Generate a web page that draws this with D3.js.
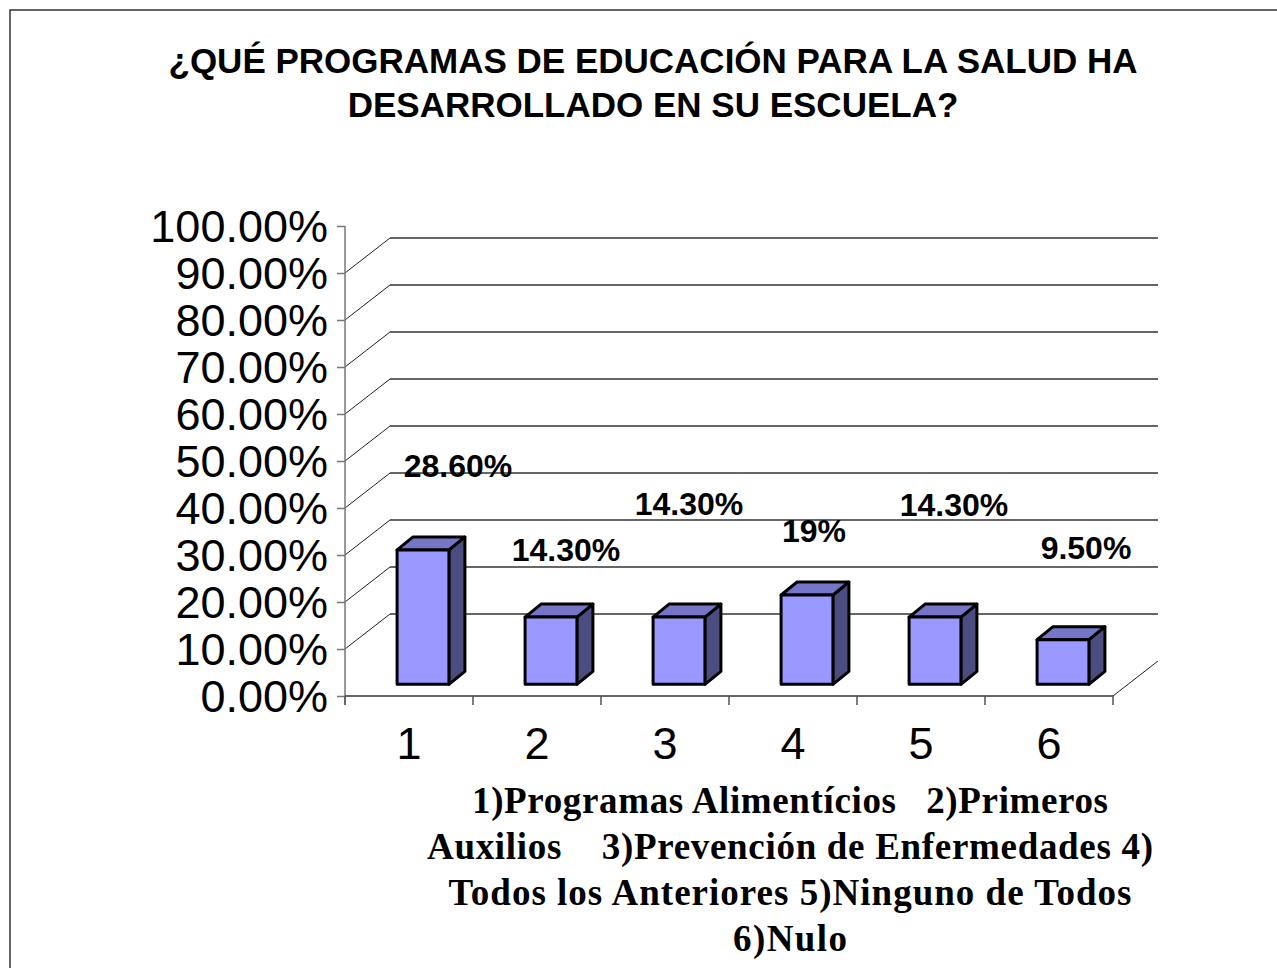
<!DOCTYPE html>
<html>
<head>
<meta charset="utf-8">
<script src="https://cdn.jsdelivr.net/npm/d3@7"></script>
<style>
  body { margin: 0; background: #fff; }
  svg { display: block; }
</style>
</head>
<body>
<div id="chart"></div>
<script>
// Data
var categories = ["1", "2", "3", "4", "5", "6"];
var values = [0.286, 0.143, 0.143, 0.19, 0.143, 0.095];
var valueLabels = ["28.60%", "14.30%", "14.30%", "19%", "14.30%", "9.50%"];
var yTicks = [0, 0.1, 0.2, 0.3, 0.4, 0.5, 0.6, 0.7, 0.8, 0.9, 1.0];
var titleLines = ["¿QUÉ PROGRAMAS DE EDUCACIÓN PARA LA SALUD HA", "DESARROLLADO EN SU ESCUELA?"];
var captionLines = [
    "1)Programas Alimentícios   2)Primeros",
    "Auxilios    3)Prevención de Enfermedades 4)",
    "Todos los Anteriores 5)Ninguno de Todos",
    "6)Nulo"
];

// labels were nudged by hand in the original chart
var labelNudge = [[34, -73], [14, -56], [9, -102], [6, -53], [18, -101], [22, -81]];
var captionWidths = [636, 726, 683, 114];

var W = 1277, H = 968;
var depth = {dx: 45, dy: -35}; // 3d depth of the plot box

var svg = d3.select("#chart").append("svg")
    .attr("width", W)
    .attr("height", H);

// outer frame
svg.append("rect")
    .attr("x", 10).attr("y", 10)
    .attr("width", W + 20).attr("height", H + 20)
    .attr("fill", "none")
    .attr("stroke", "#333")
    .attr("stroke-width", 1.5);

// title
svg.append("g").selectAll("text")
    .data(titleLines)
    .enter().append("text")
    .attr("x", 653)
    .attr("y", (d, i) => 73 + i * 44)
    .attr("text-anchor", "middle")
    .style("font-family", "Arial, 'Liberation Sans', sans-serif")
    .style("font-weight", "bold")
    .style("font-size", "35px")
    .text(d => d);

// scales
var x = d3.scaleBand().domain(categories).range([345, 1113]);
var y = d3.scaleLinear().domain([0, 1]).range([696, 226]);

var plot = svg.append("g");

// back wall gridlines + side wall diagonals
var gridVals = yTicks.filter(v => v > 0 && v < 1);
plot.selectAll(".grid")
    .data(gridVals)
    .enter().append("line")
    .attr("class", "grid")
    .attr("x1", x.range()[0] + depth.dx)
    .attr("x2", x.range()[1] + depth.dx)
    .attr("y1", d => y(d) + depth.dy)
    .attr("y2", d => y(d) + depth.dy)
    .attr("stroke", "#333")
    .attr("stroke-width", 1.3);

plot.selectAll(".diag")
    .data(gridVals)
    .enter().append("line")
    .attr("class", "diag")
    .attr("x1", x.range()[0])
    .attr("x2", x.range()[0] + depth.dx)
    .attr("y1", d => y(d))
    .attr("y2", d => y(d) + depth.dy)
    .attr("stroke", "#222")
    .attr("stroke-width", 1);

// floor right edge
plot.append("line")
    .attr("x1", x.range()[1]).attr("y1", y(0))
    .attr("x2", x.range()[1] + depth.dx).attr("y2", y(0) + depth.dy)
    .attr("stroke", "#222")
    .attr("stroke-width", 1);

// y axis
var yAxis = d3.axisLeft(y)
    .tickValues(yTicks)
    .tickFormat(d3.format(".2%"))
    .tickSize(8)
    .tickPadding(9);

var yG = plot.append("g")
    .attr("transform", "translate(" + x.range()[0] + ",0)")
    .call(yAxis);
yG.select(".domain").remove();
yG.selectAll(".tick line").attr("stroke", "#777").attr("stroke-width", 1.5);
yG.selectAll(".tick text")
    .attr("dy", "0.35em")
    .attr("fill", "#000")
    .style("font-family", "Arial, 'Liberation Sans', sans-serif")
    .style("font-size", "45px");
plot.append("line")
    .attr("x1", x.range()[0]).attr("x2", x.range()[0])
    .attr("y1", y(1)).attr("y2", y(0) + 9)
    .attr("stroke", "#777").attr("stroke-width", 1.5);

// x axis
plot.append("line")
    .attr("x1", x.range()[0]).attr("x2", x.range()[1])
    .attr("y1", y(0)).attr("y2", y(0))
    .attr("stroke", "#333").attr("stroke-width", 1.5);

var bounds = categories.map(c => x(c)).concat([x.range()[1]]);
plot.selectAll(".xtick")
    .data(bounds)
    .enter().append("line")
    .attr("class", "xtick")
    .attr("x1", d => d).attr("x2", d => d)
    .attr("y1", y(0)).attr("y2", y(0) + 9)
    .attr("stroke", "#555").attr("stroke-width", 1.5);

plot.selectAll(".xlabel")
    .data(categories)
    .enter().append("text")
    .attr("class", "xlabel")
    .attr("x", d => x(d) + x.bandwidth() / 2)
    .attr("y", 759)
    .attr("text-anchor", "middle")
    .style("font-family", "Arial, 'Liberation Sans', sans-serif")
    .style("font-size", "45px")
    .text(d => d);

// 3d bars: front face sits a third of the way into the box, bar depth another third
var barW = x.bandwidth() * 0.405;
var off = {dx: depth.dx / 3, dy: depth.dy / 3};
var bd = {dx: 16, dy: -13};

var bars = plot.selectAll(".bar")
    .data(categories.map((c, i) => ({cat: c, value: values[i]})))
    .enter().append("g")
    .attr("class", "bar");

function barGeom(d) {
    var x0 = x(d.cat) + x.bandwidth() / 2 + off.dx - 1 - barW / 2;
    var x1 = x0 + barW;
    var yb = y(0) + off.dy;
    var yt = y(d.value) + off.dy;
    return {x0: x0, x1: x1, yb: yb, yt: yt};
}

bars.append("path")
    .attr("d", d => {
        var g = barGeom(d);
        return "M" + g.x1 + "," + g.yb + "L" + (g.x1 + bd.dx) + "," + (g.yb + bd.dy) +
            "L" + (g.x1 + bd.dx) + "," + (g.yt + bd.dy) + "L" + g.x1 + "," + g.yt + "Z";
    })
    .attr("fill", "#4c4c80");

bars.append("path")
    .attr("d", d => {
        var g = barGeom(d);
        return "M" + g.x0 + "," + g.yt + "L" + (g.x0 + bd.dx) + "," + (g.yt + bd.dy) +
            "L" + (g.x1 + bd.dx) + "," + (g.yt + bd.dy) + "L" + g.x1 + "," + g.yt + "Z";
    })
    .attr("fill", "#7676c8");

bars.append("rect")
    .attr("x", d => barGeom(d).x0)
    .attr("y", d => barGeom(d).yt)
    .attr("width", barW)
    .attr("height", d => barGeom(d).yb - barGeom(d).yt)
    .attr("fill", "#9999ff");

bars.selectAll("path, rect")
    .attr("stroke", "#000")
    .attr("stroke-width", 3)
    .attr("stroke-linejoin", "round");

// value labels
plot.selectAll(".vlabel")
    .data(categories.map((c, i) => ({cat: c, value: values[i], label: valueLabels[i], i: i})))
    .enter().append("text")
    .attr("class", "vlabel")
    .attr("x", d => barGeom(d).x0 + barW / 2 + 1 + labelNudge[d.i][0])
    .attr("y", d => barGeom(d).yt + labelNudge[d.i][1])
    .attr("text-anchor", "middle")
    .style("font-family", "Arial, 'Liberation Sans', sans-serif")
    .style("font-weight", "bold")
    .style("font-size", "32px")
    .text(d => d.label);

// caption below the axis
svg.append("g").selectAll("text")
    .data(captionLines)
    .enter().append("text")
    .attr("x", 790)
    .attr("y", (d, i) => 813 + i * 46)
    .attr("text-anchor", "middle")
    .attr("textLength", (d, i) => captionWidths[i])
    .attr("lengthAdjust", "spacing")
    .style("white-space", "pre")
    .style("font-family", "'Book Antiqua', 'Palatino Linotype', 'Liberation Serif', serif")
    .style("font-weight", "bold")
    .style("font-size", "37px")
    .text(d => d);
</script>
</body>
</html>
